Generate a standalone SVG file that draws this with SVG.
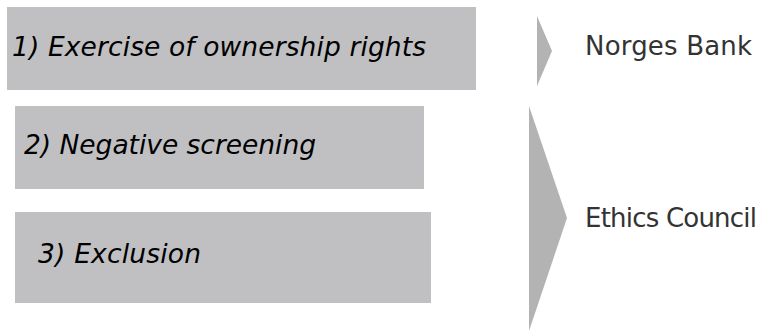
<svg xmlns="http://www.w3.org/2000/svg" width="775" height="332" viewBox="0 0 775 332">
<style>
.box{fill:#c0c0c2}
.chev{fill:#b3b3b3}
.bt{font-family:"DejaVu Sans",Verdana,sans-serif;font-style:italic;font-size:26.5px;fill:#000}
.lt{font-family:"DejaVu Sans",Verdana,sans-serif;font-size:26px;fill:#333}
</style>
<rect width="775" height="332" fill="#fff"/>
<g id="n1"><rect class="box" x="7" y="7" width="469" height="83"/><text class="bt" x="12" y="56" textLength="414" lengthAdjust="spacing">1) Exercise of ownership rights</text></g>
<g id="n2"><rect class="box" x="15" y="106" width="409" height="83"/><text class="bt" x="24" y="154" textLength="292" lengthAdjust="spacing">2) Negative screening</text></g>
<g id="n3"><rect class="box" x="15" y="212" width="416" height="91"/><text class="bt" x="38" y="263" textLength="163" lengthAdjust="spacing">3) Exclusion</text></g>
<g id="connectors">
<polygon class="chev" points="537,16 552,51 537,86"/>
<polygon class="chev" points="529,106 567,218 529,331"/>
</g>
<g id="n4"><text class="lt" x="585" y="55" textLength="167" lengthAdjust="spacing">Norges Bank</text></g>
<g id="n5"><text class="lt" x="585" y="227" textLength="172" lengthAdjust="spacing">Ethics Council</text></g>
</svg>
